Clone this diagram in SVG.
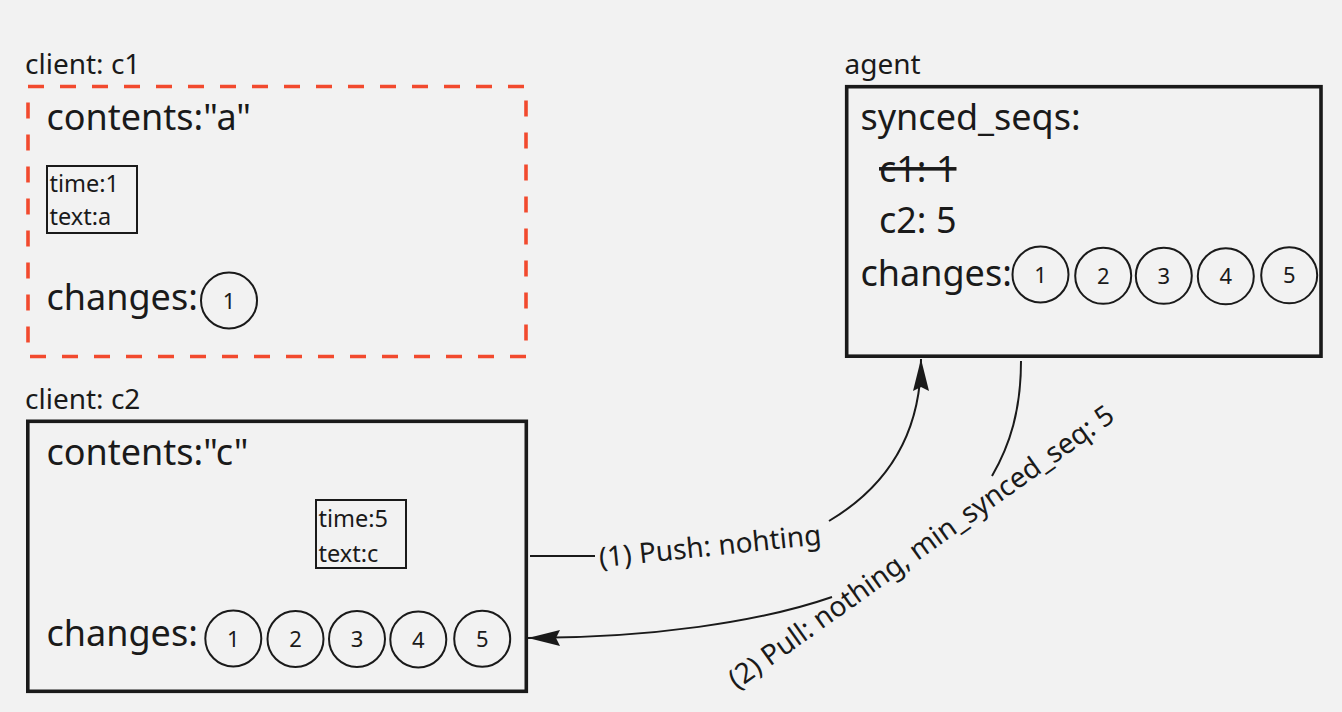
<svg xmlns="http://www.w3.org/2000/svg" width="1342" height="712" viewBox="0 0 1342 712">
<style>
  text { font-family: "Noto Sans", "Open Sans", sans-serif; fill: #1a1a1a; }
  .lbl { font-size: 28px; }
  .big { font-size: 36px; }
  .sm { font-size: 23.5px; }
  .num { font-size: 22px; text-anchor: middle; }
  .box { fill: none; stroke: #1a1a1a; stroke-width: 3.6; }
  .dash { fill: none; stroke: #f24a2e; stroke-width: 3.6; stroke-dasharray: 16 16; }
  .rec { fill: none; stroke: #1a1a1a; stroke-width: 2; }
  .chg { fill: none; stroke: #1a1a1a; stroke-width: 2; }
  .conn { fill: none; stroke: #1a1a1a; stroke-width: 2; }
</style>
<defs>
  <marker id="arrow" viewBox="0 0 32 16" refX="32" refY="8" markerWidth="32" markerHeight="16" markerUnits="userSpaceOnUse" orient="auto">
    <path d="M0,0 L32,8 L0,16 L4,8 Z" fill="#1a1a1a"/>
  </marker>
</defs>
<rect x="0" y="0" width="1342" height="712" fill="#f2f2f2"/>

<g id="client-c1">
  <text class="lbl" x="25" y="73.5">client: c1</text>
  <path class="dash" d="M28,86.5 H526 V356.5 H28 Z"/>
  <text class="big" x="46.5" y="130">contents:"a"</text>
  <rect class="rec" x="47" y="166" width="90" height="67"/>
  <text class="sm" x="49.5" y="192">time:1</text>
  <text class="sm" x="49.5" y="225">text:a</text>
  <text class="big" x="46.5" y="309.5">changes:</text>
  <circle class="chg" cx="229" cy="300.5" r="28"/>
  <text class="num" x="229" y="308.5">1</text>
</g>

<g id="client-c2">
  <text class="lbl" x="25" y="409">client: c2</text>
  <rect class="box" x="27.8" y="421.3" width="498.5" height="270"/>
  <text class="big" x="46.5" y="465">contents:"c"</text>
  <rect class="rec" x="316" y="500" width="90" height="68"/>
  <text class="sm" x="318.5" y="527">time:5</text>
  <text class="sm" x="318.5" y="562">text:c</text>
  <text class="big" x="46.5" y="645.5">changes:</text>
  <circle class="chg" cx="233.3" cy="638.5" r="28"/>
  <text class="num" x="233.3" y="646.5">1</text>
  <circle class="chg" cx="295.5" cy="639" r="28"/>
  <text class="num" x="295.5" y="647">2</text>
  <circle class="chg" cx="357" cy="639" r="28"/>
  <text class="num" x="357" y="647">3</text>
  <circle class="chg" cx="418.3" cy="639.5" r="28"/>
  <text class="num" x="418.3" y="647.5">4</text>
  <circle class="chg" cx="482.2" cy="638.7" r="28"/>
  <text class="num" x="482.2" y="646.7">5</text>
</g>

<g id="agent">
  <text class="lbl" x="844.5" y="73.5">agent</text>
  <rect class="box" x="846.7" y="86.7" width="474.3" height="269.5"/>
  <text class="big" x="860.5" y="130">synced_seqs:</text>
  <text class="big" x="879" y="181.5" text-decoration="line-through">c1: 1</text>
  <text class="big" x="879" y="232.5">c2: 5</text>
  <text class="big" x="860.5" y="286">changes:</text>
  <circle class="chg" cx="1040.5" cy="274.5" r="28"/>
  <text class="num" x="1040.5" y="282.5">1</text>
  <circle class="chg" cx="1103.2" cy="275.8" r="28"/>
  <text class="num" x="1103.2" y="283.8">2</text>
  <circle class="chg" cx="1163.8" cy="275.8" r="28"/>
  <text class="num" x="1163.8" y="283.8">3</text>
  <circle class="chg" cx="1225.8" cy="276.3" r="28"/>
  <text class="num" x="1225.8" y="284.3">4</text>
  <circle class="chg" cx="1289.2" cy="275.3" r="28"/>
  <text class="num" x="1289.2" y="283.3">5</text>
</g>

<g id="connectors">
  <path class="conn" d="M530,556 H595"/>
  <path class="conn" d="M829,521 C866,499 921,455 921,359" marker-end="url(#arrow)"/>
  <text class="lbl" x="600" y="567.5" transform="rotate(-6 600 567.5)">(1) Push: nohting</text>
  <path class="conn" d="M1021,361 C1021,410 1010,445 992,476"/>
  <path class="conn" d="M832,597 C760,622 650,638 528,638" marker-end="url(#arrow)"/>
  <text class="lbl" x="737" y="690" transform="rotate(-35.5 737 690)">(2) Pull: nothing, min_synced_seq: 5</text>
</g>
</svg>
